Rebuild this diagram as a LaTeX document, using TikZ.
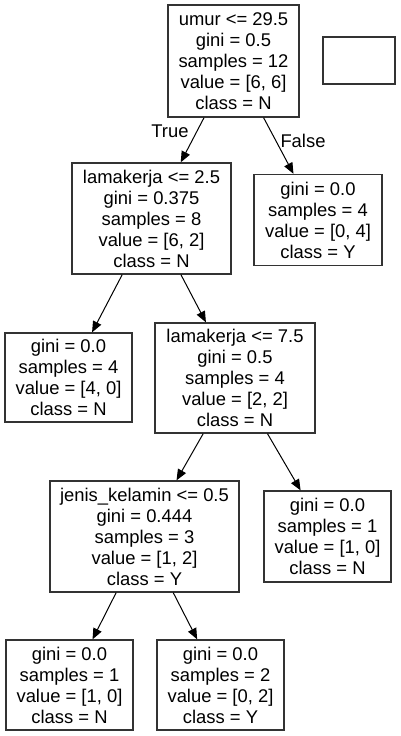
\documentclass[tikz,border=0pt]{standalone}
\usepackage{fontspec}
\setmainfont{Liberation Sans}
\usetikzlibrary{arrows.meta}
\begin{document}
\begin{tikzpicture}[x=1pt,y=1pt,
  box/.style={draw=black!80, line width=1.3pt, rectangle, align=center, inner sep=0pt,
    font=\fontsize{18.4}{21}\selectfont},
  leaf/.style={box, minimum width=127pt, minimum height=91pt},
  inner/.style={box, minimum height=111pt},
  edge/.style={line width=1pt, -{Triangle[length=11pt,width=9pt]}},
  lbl/.style={font=\fontsize{18.4}{21}\selectfont, inner sep=0pt}
]
\useasboundingbox (0,0) rectangle (401,-736);
\node[inner, minimum width=131pt, minimum height=112pt] (root) at (233.5,-61)
  {umur <= 29.5\\gini = 0.5\\samples = 12\\value = [6, 6]\\class = N};
\node[box, minimum width=72pt, minimum height=47pt] (legend) at (359,-60.5) {};
\node[inner, minimum width=159pt] (l1) at (151.5,-218.5)
  {lamakerja <= 2.5\\gini = 0.375\\samples = 8\\value = [6, 2]\\class = N};
\node[leaf, minimum width=128pt] (r1) at (318,-220)
  {gini = 0.0\\samples = 4\\value = [0, 4]\\class = Y};
\node[leaf, minimum height=89pt] (a) at (68.5,-377.5)
  {gini = 0.0\\samples = 4\\value = [4, 0]\\class = N};
\node[inner, minimum width=160pt, minimum height=110pt] (l2) at (235,-378)
  {lamakerja <= 7.5\\gini = 0.5\\samples = 4\\value = [2, 2]\\class = N};
\node[inner, minimum width=189pt] (j) at (144.5,-536.5)
  {jenis\_kelamin <= 0.5\\gini = 0.444\\samples = 3\\value = [1, 2]\\class = Y};
\node[leaf] (b) at (327.5,-536.5)
  {gini = 0.0\\samples = 1\\value = [1, 0]\\class = N};
\node[leaf, minimum height=90pt] (c) at (69.5,-685)
  {gini = 0.0\\samples = 1\\value = [1, 0]\\class = N};
\node[leaf, minimum height=90pt] (d) at (220.5,-685)
  {gini = 0.0\\samples = 2\\value = [0, 2]\\class = Y};
\draw[edge] (root) -- (l1);
\draw[edge] (root) -- (r1);
\draw[edge] (l1) -- (a);
\draw[edge] (l1) -- (l2);
\draw[edge] (l2) -- (j);
\draw[edge] (l2) -- (b);
\draw[edge] (j) -- (c);
\draw[edge] (j) -- (d);
\node[lbl] (t) at (170,-131) {True};
\node[lbl] (f) at (303,-141) {False};
\end{tikzpicture}
\end{document}
